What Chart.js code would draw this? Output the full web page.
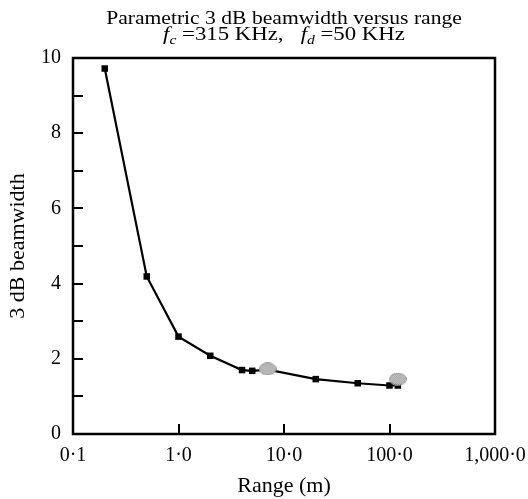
<!DOCTYPE html>
<html><head><meta charset="utf-8">
<script src="https://cdn.jsdelivr.net/npm/chart.js@4.4.0/dist/chart.umd.min.js"></script>
<style>html,body{margin:0;padding:0;background:#fff}#wrap{width:528px;height:499px;position:relative}</style>
</head><body><div id="wrap"><canvas id="c" width="528" height="499"></canvas></div>
<script>
// ---- data ----
const rangeM    = [0.2, 0.5, 1, 2, 4, 5, 7, 20, 50, 100, 120];
const beamwidth = [9.72, 4.19, 2.59, 2.08, 1.70, 1.68, 1.71, 1.46, 1.35, 1.29, 1.29];
const markerRange = [7, 120];
const markerBeam  = [1.73, 1.46];
const xTickValues = [0.1, 1, 10, 100, 1000];
const xTickLabels = ['0·1', '1·0', '10·0', '100·0', '1,000·0'];
const yTickValues = [0, 2, 4, 6, 8, 10];
const yTickLabels = ['0', '2', '4', '6', '8', '10'];
const yMinorTicks = [1, 2, 3, 4, 5, 6, 7, 8, 9];
const xMinorTicks = [1, 10, 100];
const titleLine1 = 'Parametric 3 dB beamwidth versus range';
const xTitle = 'Range (m)';
const yTitle = '3 dB beamwidth';

const FONT = '"Liberation Serif", "Times New Roman", serif';

function makeBlob() {
  const c = document.createElement('canvas');
  c.width = 18; c.height = 13;
  const g = c.getContext('2d');
  g.beginPath(); g.ellipse(9, 6.5, 8.5, 6, 0, 0, Math.PI * 2); g.closePath();
  g.fillStyle = '#dadada'; g.fill();
  g.save(); g.clip();
  g.strokeStyle = '#7a7a7a'; g.lineWidth = 0.5;
  for (let k = -20; k < 40; k += 2) {
    g.beginPath(); g.moveTo(k, 0); g.lineTo(k + 13, 13); g.stroke();
    g.beginPath(); g.moveTo(k, 13); g.lineTo(k + 13, 0); g.stroke();
  }
  g.restore();
  g.strokeStyle = '#8a8a8a'; g.lineWidth = 0.8;
  g.beginPath(); g.ellipse(9, 6.5, 8.5, 6, 0, 0, Math.PI * 2); g.stroke();
  return c;
}
const blob = makeBlob();

const framePlugin = {
  id: 'frame',
  afterDraw(chart) {
    const ctx = chart.ctx, a = chart.chartArea;
    const xs = chart.scales.x, ys = chart.scales.y;
    ctx.save();
    ctx.strokeStyle = '#000';
    ctx.lineWidth = 2;
    ctx.beginPath();
    xMinorTicks.forEach(v => {
      const px = Math.round(xs.getPixelForValue(v));
      ctx.moveTo(px, a.bottom); ctx.lineTo(px, a.bottom - 10);
    });
    yMinorTicks.forEach(v => {
      const py = Math.round(ys.getPixelForValue(v));
      ctx.moveTo(a.left, py); ctx.lineTo(a.left + 10, py);
    });
    ctx.stroke();
    ctx.lineWidth = 2.5;
    ctx.strokeRect(a.left, a.top, a.right - a.left, a.bottom - a.top);
    ctx.restore();
  }
};

const SX = 1.2; // horizontal stretch of the reference lettering
const titlePlugin = {
  id: 'twoLineTitle',
  afterDraw(chart) {
    const ctx = chart.ctx, a = chart.chartArea;
    const cx = (a.left + a.right) / 2;
    ctx.save();
    ctx.fillStyle = '#000';
    ctx.textBaseline = 'alphabetic';
    ctx.translate(cx, 0);
    ctx.scale(SX, 1);
    ctx.font = '18px ' + FONT;
    ctx.textAlign = 'center';
    ctx.fillText(titleLine1, 0, 24);
    const segs = [
      { t: 'f', f: 'italic 19px ' + FONT, dy: 0 },
      { t: 'c', f: 'italic 13px ' + FONT, dy: 4 },
      { t: ' =315 KHz,   ', f: '19px ' + FONT, dy: 0 },
      { t: 'f', f: 'italic 19px ' + FONT, dy: 0 },
      { t: 'd', f: 'italic 13px ' + FONT, dy: 4 },
      { t: ' =50 KHz', f: '19px ' + FONT, dy: 0 }
    ];
    let total = 0;
    segs.forEach(s => { ctx.font = s.f; s.w = ctx.measureText(s.t).width; total += s.w; });
    let x = -total / 2;
    ctx.textAlign = 'left';
    segs.forEach(s => { ctx.font = s.f; ctx.fillText(s.t, x, 40 + s.dy); x += s.w; });
    ctx.restore();
  }
};

new Chart(document.getElementById('c'), {
  type: 'line',
  data: {
    datasets: [
      {
        type: 'scatter',
        label: 'markers',
        data: markerRange.map((x, i) => ({ x: x, y: markerBeam[i] })),
        pointStyle: blob,
        pointRadius: 8,
        order: 0
      },
      {
        label: 'beamwidth',
        data: rangeM.map((x, i) => ({ x: x, y: beamwidth[i] })),
        borderColor: '#000',
        borderWidth: 2.2,
        pointStyle: 'rect',
        pointRadius: 4.6,
        pointBackgroundColor: '#000',
        pointBorderWidth: 0,
        tension: 0,
        fill: false,
        order: 1
      }
    ]
  },
  options: {
    responsive: false,
    devicePixelRatio: 1,
    animation: false,
    layout: { padding: { top: 58, right: 33, left: 0, bottom: 0 } },
    plugins: { legend: { display: false }, tooltip: { enabled: false }, title: { display: false } },
    scales: {
      x: {
        type: 'logarithmic',
        min: 0.1, max: 1000,
        afterBuildTicks(s) { s.ticks = xTickValues.map(v => ({ value: v })); },
        afterFit(s) { s.height = 65; s.paddingLeft = 0; s.paddingRight = 0; },
        ticks: {
          autoSkip: false, maxRotation: 0, padding: 10, color: '#000',
          font: { family: FONT, size: 20 },
          callback(v) { const i = xTickValues.indexOf(v); return i >= 0 ? xTickLabels[i] : ''; }
        },
        grid: { display: false, drawTicks: false },
        border: { display: false },
        title: { display: true, text: xTitle, color: '#000', font: { family: FONT, size: 22 }, padding: { top: 0, bottom: 0 } }
      },
      y: {
        type: 'linear',
        min: 0, max: 10,
        afterBuildTicks(s) { s.ticks = yTickValues.map(v => ({ value: v })); },
        afterFit(s) { s.width = 73; s.paddingTop = 0; s.paddingBottom = 0; },
        ticks: {
          padding: 12, color: '#000',
          font: { family: FONT, size: 20 },
          callback(v) { const i = yTickValues.indexOf(v); return i >= 0 ? yTickLabels[i] : ''; }
        },
        grid: { display: false, drawTicks: false },
        border: { display: false },
        title: { display: true, text: yTitle, color: '#000', font: { family: FONT, size: 22 }, padding: { top: 5, bottom: 0 } }
      }
    }
  },
  plugins: [framePlugin, titlePlugin]
});
</script>
</body></html>
